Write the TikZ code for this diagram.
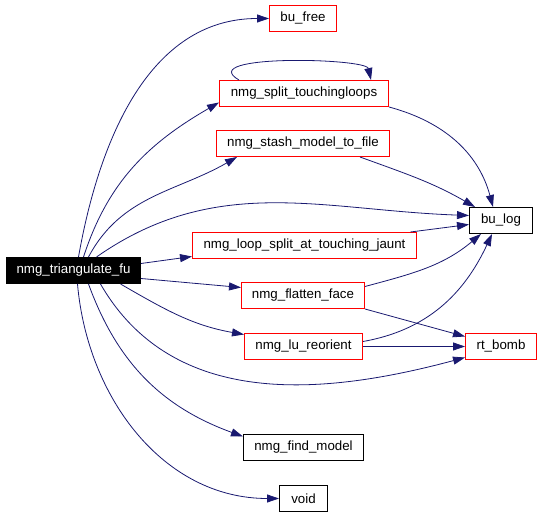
\documentclass[tikz,border=0pt]{standalone}
\usepackage{fontspec}
\setmainfont{Liberation Sans}
\usepackage{tikz}
\usetikzlibrary{arrows.meta}
\definecolor{edgeblue}{HTML}{191970}

\begin{document}
\begin{tikzpicture}[x=1bp,y=1bp,
  fn/.style={draw=black,line width=1bp,inner xsep=6bp,minimum height=26bp,
    font=\fontsize{13.3bp}{15bp}\selectfont},
  fnred/.style={fn,draw=red},
  call/.style={draw=edgeblue,line width=0.8bp,-{Triangle[length=12bp,width=8bp]}}]
  \useasboundingbox (0,0) rectangle (541,517);
  % caller
  \node[fn,fill=black,text=white,minimum width=134bp] (tri) at (73.5,246.5) {nmg\_triangulate\_fu};
  % callees
  \node[fnred,minimum width=67bp] (free) at (303,498.5) {bu\_free};
  \node[fnred,minimum width=169bp] (split) at (304,423.5) {nmg\_split\_touchingloops};
  \node[fnred,minimum width=173bp] (stash) at (303,373.5) {nmg\_stash\_model\_to\_file};
  \node[fn,minimum width=63bp] (bulog) at (501,296.5) {bu\_log};
  \node[fnred,minimum width=224bp] (jaunt) at (304.5,271.5) {nmg\_loop\_split\_at\_touching\_jaunt};
  \node[fnred,minimum width=123bp] (flat) at (303,221.5) {nmg\_flatten\_face};
  \node[fnred,minimum width=118bp] (lu) at (303.5,170.5) {nmg\_lu\_reorient};
  \node[fnred,minimum width=71bp] (rtb) at (501,170.5) {rt\_bomb};
  \node[fn,minimum width=120bp] (find) at (303.5,69.5) {nmg\_find\_model};
  \node[fn,minimum width=48bp] (void) at (303.5,18.5) {void};
  % calls from nmg_triangulate_fu
  \draw[call] ([xshift=5bp]tri.north) to[out=80,in=180] (free.west);
  \draw[call] ([xshift=10bp]tri.north) to[out=72,in=210] ([yshift=-9bp]split.west);
  \draw[call] ([xshift=15bp]tri.north) to[out=62,in=210] ([xshift=-66bp]stash.south);
  \draw[call] ([xshift=23bp]tri.north) to[out=35,in=178] ([yshift=5bp]bulog.west);
  \draw[call] ([yshift=7bp]tri.east) -- ([yshift=-11bp]jaunt.west);
  \draw[call] ([yshift=-8bp]tri.east) -- ([yshift=8bp]flat.west);
  \draw[call] ([xshift=47bp]tri.south) to[out=-30,in=170] ([yshift=12bp]lu.west);
  \draw[call] ([xshift=27bp]tri.south) to[out=-60,in=195] ([yshift=-11bp]rtb.west);
  \draw[call] ([xshift=15bp]tri.south) to[out=-70,in=160] ([yshift=11bp]find.west);
  \draw[call] ([xshift=4bp]tri.south) to[out=-85,in=180] (void.west);
  % other calls
  \draw[call] ([xshift=20bp]split.north west) .. controls +(-45,26) and +(-5,22) .. ([xshift=-18bp]split.north east);
  \draw[call] (split.south east) to[out=-15,in=105] ([xshift=-8bp]bulog.north);
  \draw[call] ([xshift=57bp]stash.south) to[out=-20,in=150] ([xshift=6bp]bulog.north west);
  \draw[call] ([xshift=106bp]jaunt.north) -- ([yshift=-4bp]bulog.west);
  \draw[call] ([yshift=9bp]flat.east) to[out=15,in=-140] ([xshift=-20bp]bulog.south);
  \draw[call] (flat.south east) -- ([yshift=10bp]rtb.west);
  \draw[call] ([yshift=5bp]lu.east) to[out=10,in=-115] ([xshift=-9bp]bulog.south);
  \draw[call] (lu.east) -- (rtb.west);
\end{tikzpicture}
\end{document}
